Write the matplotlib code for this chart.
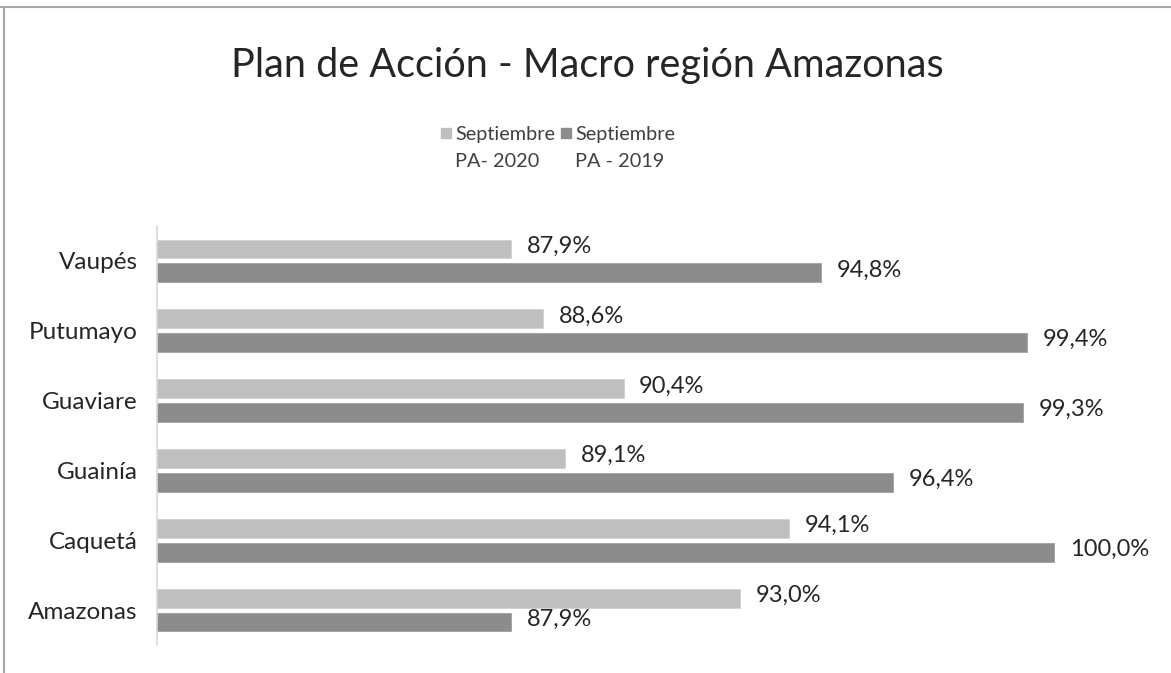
import matplotlib.pyplot as plt
from matplotlib.patches import Rectangle
from matplotlib.lines import Line2D
import numpy as np

plt.rcParams['font.family'] = ['Lato', 'DejaVu Sans']

# data
regiones = ["Vaupés", "Putumayo", "Guaviare", "Guainía", "Caquetá", "Amazonas"]
pa_2020 = [87.9, 88.6, 90.4, 89.1, 94.1, 93.0]
pa_2019 = [94.8, 99.4, 99.3, 96.4, 100.0, 87.9]
series_names = ["Septiembre\nPA- 2020", "Septiembre\nPA - 2019"]
colors = ["#bfbfbf", "#8c8c8c"]

fig = plt.figure(figsize=(11.71, 6.73), dpi=100)
ax = fig.add_axes([157 / 1171, 1 - 645 / 673, (1099 - 157) / 1171, 419 / 673])

y = np.arange(len(regiones))
h = 0.27
off = 0.17
b1 = ax.barh(y - off, pa_2020, height=h, left=0, color=colors[0], edgecolor="#d0d0d0", linewidth=0.6)
b2 = ax.barh(y + off, pa_2019, height=h, left=0, color=colors[1], edgecolor="#a0a0a0", linewidth=0.6)

for bars, vals in [(b1, pa_2020), (b2, pa_2019)]:
    for bar, v in zip(bars, vals):
        ax.text(v + 0.35, bar.get_y() + bar.get_height() / 2 - 0.04,
                f"{v:.1f}%".replace(".", ","), va="center", ha="left",
                fontsize=17, color="#262626")

ax.set_xlim(80, 101)
ax.set_ylim(len(regiones) - 0.5, -0.5)
ax.set_yticks(y)
ax.set_yticklabels(regiones, fontsize=17.5, color="#262626")
ax.tick_params(axis="y", length=0, pad=14)
ax.set_xticks([])
for s in ["top", "right", "bottom"]:
    ax.spines[s].set_visible(False)
ax.spines["left"].set_color("#d9d9d9")
ax.spines["left"].set_linewidth(1.2)

fig.text(0.5015, 1 - 66 / 673, "Plan de Acción - Macro región Amazonas",
         ha="center", va="center", fontsize=28.5, color="#262626")

# legend
leg_x = [441 / 1171, 561 / 1171]
for lx, name, c in zip(leg_x, series_names, colors):
    fig.patches.append(Rectangle((lx, 1 - 138 / 673), 10 / 1171, 10 / 673,
                                 transform=fig.transFigure, color=c))
    fig.text(lx + 14 / 1171, 1 - 148 / 673, name, ha="left", va="center",
             fontsize=14.3, color="#404040", linespacing=1.65)

# outer frame
fig.lines.append(Line2D([0, 1], [1 - 7 / 673, 1 - 7 / 673], transform=fig.transFigure,
                        color="#a6a6a6", linewidth=1.5))
fig.lines.append(Line2D([4 / 1171, 4 / 1171], [0, 1 - 7 / 673], transform=fig.transFigure,
                        color="#a6a6a6", linewidth=1.5))

fig.savefig("out.png", dpi=100)
